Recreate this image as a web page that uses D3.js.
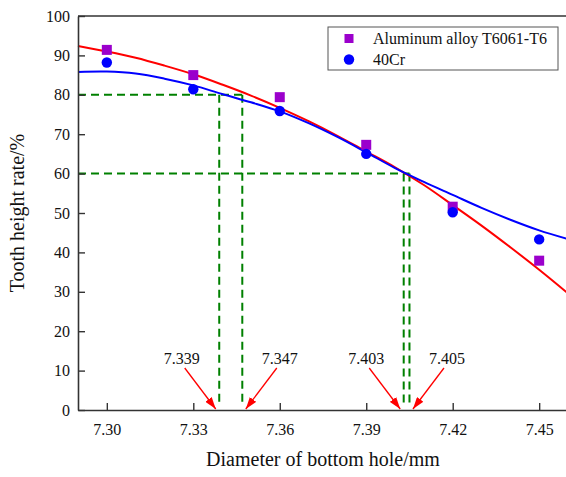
<!DOCTYPE html>
<html>
<head>
<meta charset="utf-8">
<script src="https://cdn.jsdelivr.net/npm/d3@7"></script>
<style>
  body { margin: 0; background: #fff; }
  svg text { font-family: "Liberation Serif", "Times New Roman", serif; }
</style>
</head>
<body>
<div id="chart"></div>
<script>
// Measured points
const diameters = [7.30, 7.33, 7.36, 7.39, 7.42, 7.45];
const aluminum = [91.4, 85.0, 79.4, 67.3, 51.6, 37.9];
const cr40 = [88.2, 81.4, 75.9, 65.0, 50.2, 43.3];

// Fitted curves
const fitX = [7.29, 7.30, 7.31, 7.32, 7.33, 7.34, 7.35, 7.36, 7.37, 7.38, 7.39, 7.40, 7.41, 7.42, 7.43, 7.44, 7.45, 7.46];
const aluminumFit = [92.4, 91.0, 89.4, 87.4, 85.2, 82.6, 79.8, 76.7, 73.3, 69.6, 65.6, 61.6, 57.1, 52.0, 46.8, 41.3, 35.6, 29.6];
const cr40Fit = [85.8, 85.9, 85.4, 84.1, 82.4, 80.2, 78.1, 75.8, 72.8, 69.3, 65.4, 61.4, 57.9, 54.6, 51.3, 48.3, 45.6, 43.4];

// Target tooth heights and the diameters where the curves reach them
const levels = [80, 60];
const crCross = [7.339, 7.403];
const alCross = [7.347, 7.405];

const xTicks = [7.30, 7.33, 7.36, 7.39, 7.42, 7.45];
const yTicks = [0, 10, 20, 30, 40, 50, 60, 70, 80, 90, 100];
const seriesNames = ["Aluminum alloy T6061-T6", "40Cr"];

const width = 566, height = 477;
const margin = { top: 16, left: 78 };
const plotW = 490, plotH = 394;
const font = "Liberation Serif, Times New Roman, serif";

const svg = d3.select("#chart").append("svg")
  .attr("width", width)
  .attr("height", height)
  .attr("font-family", font);

const x = d3.scaleLinear().domain([7.29, 7.46]).range([margin.left, margin.left + plotW]);
const y = d3.scaleLinear().domain([0, 100]).range([margin.top + plotH, margin.top]);

const green = "#008000";
const axisColor = "#333";

// Green guide lines
const guides = svg.append("g")
  .attr("stroke", green)
  .attr("stroke-width", 2)
  .attr("stroke-dasharray", "8,5")
  .attr("fill", "none");

levels.forEach((lv, i) => {
  guides.append("line")
    .attr("x1", x(7.29)).attr("x2", x(alCross[i]))
    .attr("y1", y(lv)).attr("y2", y(lv));
  [crCross[i], alCross[i]].forEach(v => {
    guides.append("line")
      .attr("x1", x(v)).attr("x2", x(v))
      .attr("y1", y(lv)).attr("y2", y(0) - 6);
  });
});

// Fitted curves
const line = d3.line().x(d => x(d[0])).y(d => y(d[1])).curve(d3.curveCatmullRom);
svg.append("path")
  .datum(d3.zip(fitX, aluminumFit))
  .attr("d", line)
  .attr("fill", "none")
  .attr("stroke", "#ff0000")
  .attr("stroke-width", 2);
svg.append("path")
  .datum(d3.zip(fitX, cr40Fit))
  .attr("d", line)
  .attr("fill", "none")
  .attr("stroke", "#0000ff")
  .attr("stroke-width", 2);

// Points
const sq = 10;
svg.append("g").selectAll("rect")
  .data(d3.zip(diameters, aluminum))
  .join("rect")
  .attr("x", d => x(d[0]) - sq / 2)
  .attr("y", d => y(d[1]) - sq / 2)
  .attr("width", sq).attr("height", sq)
  .attr("fill", "#9b00cc");
svg.append("g").selectAll("circle")
  .data(d3.zip(diameters, cr40))
  .join("circle")
  .attr("cx", d => x(d[0]))
  .attr("cy", d => y(d[1]))
  .attr("r", 5.2)
  .attr("fill", "#0000ff");

// Axes
const xAxis = svg.append("g")
  .attr("transform", `translate(0,${y(0)})`)
  .call(d3.axisBottom(x).tickValues(xTicks).tickFormat(d3.format(".2f")).tickSizeInner(-7).tickSizeOuter(0).tickPadding(14));
const yAxis = svg.append("g")
  .attr("transform", `translate(${x(7.29)},0)`)
  .call(d3.axisLeft(y).tickValues(yTicks).tickSizeInner(-7).tickSizeOuter(0).tickPadding(14));
[xAxis, yAxis].forEach(a => {
  a.attr("font-family", font).attr("font-size", 16);
  a.select(".domain").attr("stroke", axisColor).attr("stroke-width", 1.6);
  a.selectAll(".tick line").attr("stroke", axisColor).attr("stroke-width", 1.4);
  a.selectAll(".tick text").attr("fill", "#111");
});
yAxis.selectAll(".tick text").attr("x", -8);
svg.append("line")
  .attr("x1", x(7.29)).attr("x2", x(7.46))
  .attr("y1", y(100)).attr("y2", y(100))
  .attr("stroke", axisColor).attr("stroke-width", 1.6);

// Axis titles
svg.append("text")
  .attr("x", (x(7.29) + width) / 2 + 1)
  .attr("y", 466)
  .attr("text-anchor", "middle")
  .attr("font-size", 20)
  .attr("fill", "#111")
  .text("Diameter of bottom hole/mm");
svg.append("text")
  .attr("transform", `translate(24,${(y(0) + y(100)) / 2}) rotate(-90)`)
  .attr("text-anchor", "middle")
  .attr("font-size", 20)
  .attr("fill", "#111")
  .text("Tooth height rate/%");

// Red arrows with labels
svg.append("defs").append("marker")
  .attr("id", "arrow")
  .attr("viewBox", "0 0 12 8")
  .attr("refX", 12).attr("refY", 4)
  .attr("markerWidth", 12).attr("markerHeight", 8)
  .attr("markerUnits", "userSpaceOnUse")
  .attr("orient", "auto")
  .append("path")
  .attr("d", "M0,0L12,4L0,8Z")
  .attr("fill", "#ff0000");

const notes = [];
crCross.forEach(v => notes.push({ v: v, side: -1 }));
alCross.forEach(v => notes.push({ v: v, side: 1 }));
notes.forEach(n => {
  const tipX = x(n.v) + n.side * 3.5;
  const tipY = y(0) - 1;
  const startX = tipX + n.side * 31;
  const startY = tipY - 41;
  svg.append("line")
    .attr("x1", startX).attr("y1", startY)
    .attr("x2", tipX).attr("y2", tipY)
    .attr("stroke", "#ff0000")
    .attr("stroke-width", 1.3)
    .attr("marker-end", "url(#arrow)");
  svg.append("text")
    .attr("x", startX + n.side * 3)
    .attr("y", startY - 4)
    .attr("text-anchor", "middle")
    .attr("font-size", 16)
    .attr("fill", "#111")
    .text(d3.format(".3f")(n.v));
});

// Legend
const legend = svg.append("g").attr("transform", "translate(328,27)");
legend.append("rect")
  .attr("width", 230).attr("height", 43)
  .attr("fill", "#fff")
  .attr("stroke", "#555")
  .attr("stroke-width", 1);
legend.append("rect")
  .attr("x", 21 - 4.5).attr("y", 11.5 - 4.5)
  .attr("width", 9).attr("height", 9)
  .attr("fill", "#9b00cc");
legend.append("circle")
  .attr("cx", 21).attr("cy", 32.5)
  .attr("r", 5.2)
  .attr("fill", "#0000ff");
legend.selectAll("text.lab")
  .data(seriesNames)
  .join("text")
  .attr("class", "lab")
  .attr("x", 45)
  .attr("y", (d, i) => 17 + i * 21)
  .attr("font-size", 16)
  .attr("fill", "#111")
  .text(d => d);
</script>
</body>
</html>
